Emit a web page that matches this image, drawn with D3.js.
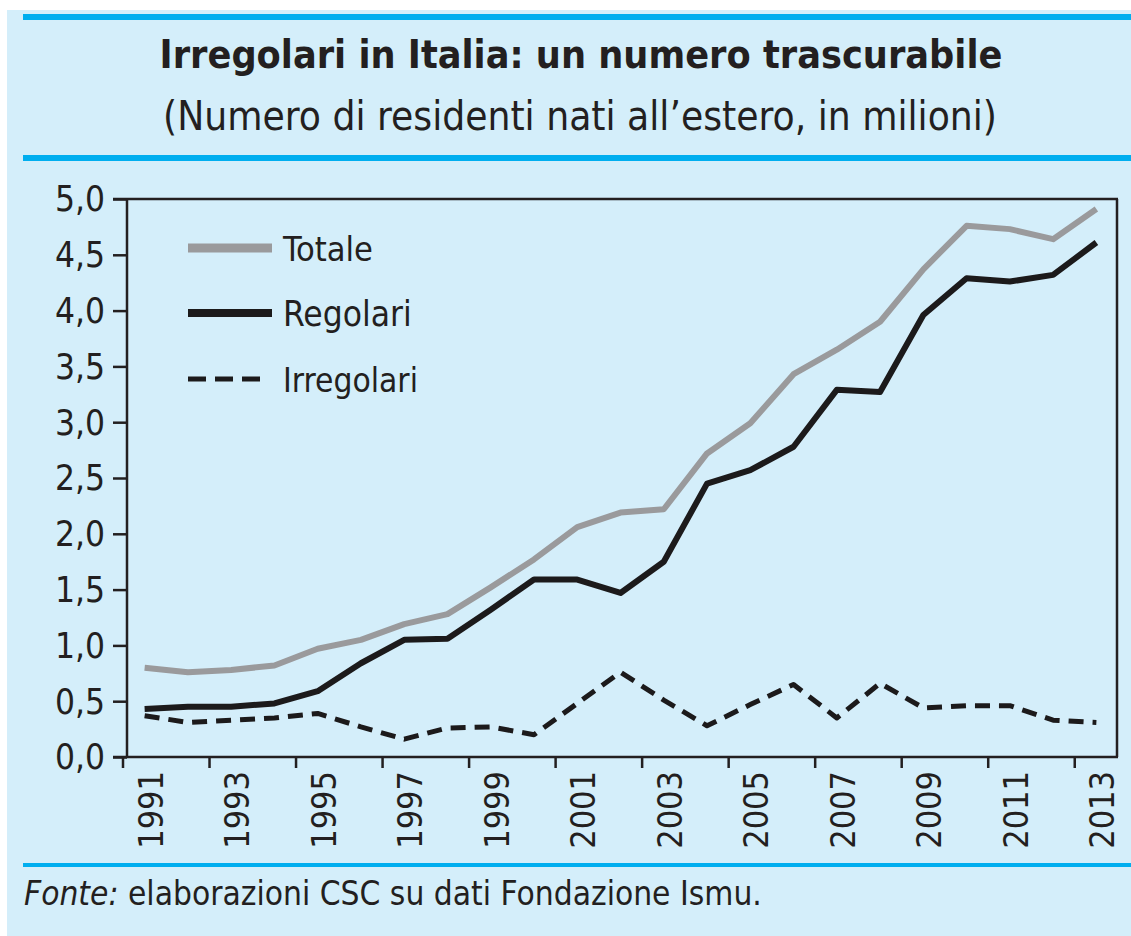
<!DOCTYPE html>
<html>
<head>
<meta charset="utf-8">
<script src="https://cdn.jsdelivr.net/npm/d3@7"></script>
<style>
  html, body { margin: 0; padding: 0; background: #fff; }
  svg { display: block; }
  text { font-family: "Liberation Sans Narrow", "DejaVu Sans Condensed", "Liberation Sans", sans-serif; fill: #231f20; }
</style>
</head>
<body>
<div id="chart"></div>
<script>
// data, in millions
var years = d3.range(1991, 2014).map(String);
var totale = [0.80, 0.76, 0.78, 0.82, 0.97, 1.05, 1.19, 1.28, 1.52, 1.77, 2.06, 2.19, 2.22, 2.72, 2.99, 3.43, 3.65, 3.90, 4.37, 4.76, 4.73, 4.64, 4.91];
var regolari = [0.43, 0.45, 0.45, 0.48, 0.59, 0.84, 1.05, 1.06, 1.32, 1.59, 1.59, 1.47, 1.75, 2.45, 2.57, 2.78, 3.29, 3.27, 3.96, 4.29, 4.26, 4.32, 4.61];
var irregolari = [0.37, 0.31, 0.33, 0.35, 0.39, 0.27, 0.16, 0.26, 0.27, 0.20, 0.48, 0.76, 0.51, 0.28, 0.47, 0.65, 0.35, 0.66, 0.44, 0.46, 0.46, 0.33, 0.31];
var yTicks = [0, 0.5, 1, 1.5, 2, 2.5, 3, 3.5, 4, 4.5, 5];
var xLabels = years.filter(function (d, i) { return i % 2 === 0; });

var series = [
  { name: "Totale", values: totale, color: "#9a9a9c", width: 6, dash: null, legendWidth: 9 },
  { name: "Regolari", values: regolari, color: "#1c1a1b", width: 6, dash: null, legendWidth: 8 },
  { name: "Irregolari", values: irregolari, color: "#1c1a1b", width: 5, dash: "15,9", legendWidth: 5 }
];

var W = 1131, H = 936;
var blue = "#00aeef", bg = "#d4eefa", ink = "#231f20";

var svg = d3.select("#chart").append("svg").attr("width", W).attr("height", H);

// shrink font until the text fits the width seen in the original
function fit(sel, size, maxW) {
  sel.style("font-size", size + "px");
  var w = sel.node().getComputedTextLength();
  if (w > maxW) sel.style("font-size", (size * maxW / w) + "px");
  return sel;
}

// panel
svg.append("rect").attr("x", 7).attr("y", 10).attr("width", W - 7).attr("height", H - 10).attr("fill", bg);
svg.append("rect").attr("x", 23).attr("y", 14).attr("width", W - 23).attr("height", 6).attr("fill", blue);
svg.append("rect").attr("x", 23).attr("y", 155).attr("width", W - 23).attr("height", 6).attr("fill", blue);
svg.append("rect").attr("x", 23).attr("y", 863).attr("width", W - 23).attr("height", 4).attr("fill", blue);

// titles
fit(svg.append("text").attr("x", 581).attr("y", 68).attr("text-anchor", "middle")
  .style("font-weight", "bold")
  .text("Irregolari in Italia: un numero trascurabile"), 50, 843);
fit(svg.append("text").attr("x", 580).attr("y", 130).attr("text-anchor", "middle")
  .text("(Numero di residenti nati all\u2019estero, in milioni)"), 50, 834);

// scales
var x = d3.scaleBand().domain(years).range([123, 1118]);
var y = d3.scaleLinear().domain([0, 5]).range([757, 199]);
var axisX = 127, rightX = 1117;

var g = svg.append("g");

// y axis
var yAxis = d3.axisLeft(y).tickValues(yTicks).tickSize(14).tickPadding(8)
  .tickFormat(function (d) { return d3.format(".1f")(d).replace(".", ","); });
var ya = g.append("g").attr("transform", "translate(" + axisX + ",0)").call(yAxis);
ya.select(".domain").remove();
ya.selectAll("line").attr("stroke", ink).attr("stroke-width", 2.5);
ya.selectAll("text").style("font-size", "35px").attr("fill", ink).attr("dy", "0.34em");

// frame
g.append("line").attr("x1", axisX).attr("x2", axisX).attr("y1", y(5)).attr("y2", y(0)).attr("stroke", ink).attr("stroke-width", 2.5);
g.append("line").attr("x1", 113).attr("x2", rightX + 1).attr("y1", y(5)).attr("y2", y(5)).attr("stroke", ink).attr("stroke-width", 2.5);
g.append("line").attr("x1", rightX).attr("x2", rightX).attr("y1", y(5)).attr("y2", y(0)).attr("stroke", ink).attr("stroke-width", 2.5);
g.append("line").attr("x1", 113).attr("x2", rightX + 1).attr("y1", y(0)).attr("y2", y(0)).attr("stroke", ink).attr("stroke-width", 2.5);

// x ticks at every second band boundary
g.append("g").selectAll("line").data(xLabels).enter().append("line")
  .attr("x1", function (d) { return x(d); }).attr("x2", function (d) { return x(d); })
  .attr("y1", y(0)).attr("y2", y(0) + 11)
  .attr("stroke", ink).attr("stroke-width", 2.5);

g.append("g").selectAll("text").data(xLabels).enter().append("text")
  .attr("transform", function (d) { return "translate(" + (x(d) + x.bandwidth() / 2 + 18) + ",771) rotate(-90)"; })
  .attr("text-anchor", "end").style("font-size", "34px")
  .text(function (d) { return d; });

// lines
var line = d3.line()
  .x(function (d, i) { return x(years[i]) + x.bandwidth() / 2; })
  .y(function (d) { return y(d); });

series.forEach(function (s) {
  g.append("path").datum(s.values)
    .attr("d", line)
    .attr("fill", "none")
    .attr("stroke", s.color)
    .attr("stroke-width", s.width)
    .attr("stroke-linejoin", "round")
    .attr("stroke-dasharray", s.dash);
});

// legend
var legY = [248, 313, 379];
var legW = [90, 130, 135];
var leg = g.append("g");
series.forEach(function (s, i) {
  leg.append("line").attr("x1", 188).attr("x2", s.dash ? 264 : 272)
    .attr("y1", legY[i]).attr("y2", legY[i])
    .attr("stroke", s.color).attr("stroke-width", s.legendWidth)
    .attr("stroke-dasharray", s.dash ? "18,9" : null);
  fit(leg.append("text").attr("x", 283).attr("y", legY[i] + 13).text(s.name), 35, legW[i]);
});

// source
var src = svg.append("text").attr("x", 24).attr("y", 905);
src.append("tspan").style("font-style", "italic").text("Fonte:");
src.append("tspan").text(" elaborazioni CSC su dati Fondazione Ismu.");
fit(src, 35, 738);
</script>
</body>
</html>
